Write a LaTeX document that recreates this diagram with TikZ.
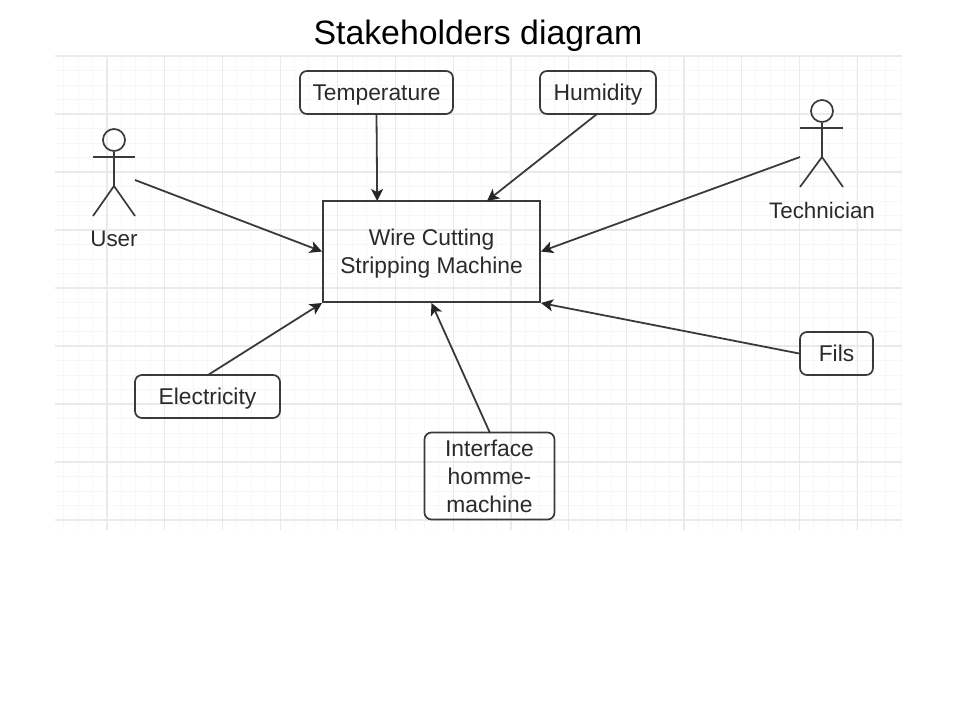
\documentclass[tikz,border=0pt]{standalone}
\usepackage{fontspec}
\setmainfont{Liberation Sans}
\usetikzlibrary{arrows.meta}
\definecolor{ink}{HTML}{3A3A3A}
\definecolor{txt}{HTML}{2A2A2A}
\definecolor{gmin}{HTML}{F7F7F7}
\definecolor{gmaj}{HTML}{EAEAEA}
\newcommand{\lift}[1]{\raisebox{-8pt}[0pt][0pt]{#1}}
\tikzset{
  box/.style={draw=ink,line width=1.7pt,rounded corners=7pt,inner sep=0pt,align=center,text=txt,font=\fontsize{22.8}{28}\selectfont},
  machine/.style={draw=ink,line width=2pt,inner sep=0pt,align=center,text=txt,font=\fontsize{22.8}{28}\selectfont,minimum width=217pt,minimum height=101pt},
  conn/.style={draw=ink,line width=1.8pt,-{Stealth[length=12pt,width=12pt,inset=3pt,color=black!85]}},
  stick/.style={draw=ink,line width=1.7pt},
  lbl/.style={inner sep=0pt,text=txt,font=\fontsize{22.4}{26}\selectfont}
}
\begin{document}
\begin{tikzpicture}[x=1pt,y=-1pt]
\useasboundingbox (0,0) rectangle (960,720);
% grid
\foreach \k in {-3,...,55} {\draw[gmin,line width=1pt] ({107+14.42*\k},56) -- ({107+14.42*\k},530);}
\foreach \k in {0,...,32} {\draw[gmin,line width=1pt] (55,{56+14.5*\k}) -- (902,{56+14.5*\k});}
\foreach \k in {0,...,13} {\draw[gmaj,line width=1.2pt] ({107+57.7*\k},56) -- ({107+57.7*\k},530);}
\foreach \k in {0,...,8} {\draw[gmaj,line width=1.2pt] (55,{56+58*\k}) -- (902,{56+58*\k});}
% title
\node[inner sep=0pt,font=\fontsize{33.8}{38}\selectfont,text=black] (title) at (478,35.5) {Stakeholders diagram};
% nodes
\node[machine] (m) at (431.5,251.5) {\lift{Wire Cutting}\\\lift{Stripping Machine}};
\node[box,minimum width=153pt,minimum height=43pt] (temp) at (376.5,92.5) {\lift{Temperature}};
\node[box,minimum width=116pt,minimum height=43pt] (hum) at (598,92.5) {\lift{Humidity}};
\node[box,minimum width=73pt,minimum height=43pt] (fils) at (836.5,353.5) {\lift{Fils}};
\node[box,minimum width=145pt,minimum height=43pt] (elec) at (207.5,396.5) {\lift{Electricity}};
\node[box,minimum width=130pt,minimum height=87pt] (ihm) at (489.5,476) {Interface\\homme-\\machine};
% user actor
\node[stick,circle,minimum size=22pt,inner sep=0pt] (uh) at (114,140) {};
\coordinate (un) at (114,186);
\draw[stick] (uh.south) -- (un);
\coordinate (ua1) at (93,157); \coordinate (ua2) at (135,157);
\coordinate (ul1) at (93,216); \coordinate (ul2) at (135,216);
\draw[stick] (ua1) -- (ua2);
\draw[stick] (ul1) -- (un) -- (ul2);
\node[lbl] (ulabel) at (114,239) {User};
% technician actor
\node[stick,circle,minimum size=22pt,inner sep=0pt] (th) at (822,111) {};
\coordinate (tn) at (822,157);
\draw[stick] (th.south) -- (tn);
\coordinate (ta1) at (800,128); \coordinate (ta2) at (843,128);
\coordinate (tl1) at (800,187); \coordinate (tl2) at (843,187);
\draw[stick] (ta1) -- (ta2);
\draw[stick] (tl1) -- (tn) -- (tl2);
\node[lbl] (tlabel) at (822,210) {Technician};
% connector ends
\coordinate (ufrom) at (135,180);
\coordinate (tfrom) at (800,157);
\coordinate (humfrom) at (597,114);
\coordinate (humto) at (487,201);
\coordinate (ihmfrom) at (490,433);
\coordinate (elecfrom) at (208,375);
\coordinate (tempto) at (377.2,201);
% connectors
\draw[conn] (ufrom) -- (m.west);
\draw[conn] (temp.south) -- (tempto);
\draw[conn] (humfrom) -- (humto);
\draw[conn] (tfrom) -- (m.east);
\draw[conn] (fils.west) -- (m.south east);
\draw[conn] (ihmfrom) -- (m.south);
\draw[conn] (elecfrom) -- (m.south west);
\end{tikzpicture}
\end{document}
